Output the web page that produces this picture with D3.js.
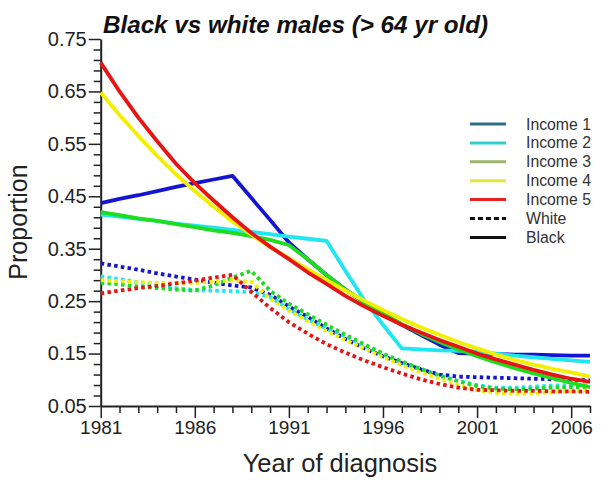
<!DOCTYPE html>
<html><head><meta charset="utf-8">
<script src="https://cdn.jsdelivr.net/npm/d3@7"></script>
<style>
html,body{margin:0;padding:0;background:#fff;}
svg{display:block;font-family:"Liberation Sans",Arial,Helvetica,sans-serif;}
</style></head>
<body>
<svg id="chart" width="602" height="493"></svg>
<script>
// ---- data ----
const years = [1981,1982,1983,1984,1985,1986,1987,1988,1989,1990,1991,1992,1993,1994,1995,1996,1997,1998,1999,2000,2001,2002,2003,2004,2005,2006,2007];

// Black (solid)
const blackIncome1 = [0.437,0.445,0.452,0.460,0.468,0.475,0.482,0.489,0.447,0.405,0.362,0.330,0.300,0.272,0.248,0.226,0.205,0.186,0.167,0.151,0.150,0.149,0.148,0.148,0.147,0.146,0.146];
const blackIncome2 = [0.415,0.411,0.407,0.403,0.398,0.394,0.390,0.386,0.382,0.378,0.373,0.369,0.365,0.308,0.252,0.205,0.160,0.158,0.156,0.155,0.154,0.150,0.146,0.143,0.140,0.137,0.134];
const blackIncome3 = [0.420,0.414,0.408,0.403,0.397,0.391,0.385,0.380,0.374,0.367,0.357,0.330,0.300,0.272,0.248,0.226,0.206,0.188,0.172,0.158,0.145,0.133,0.122,0.112,0.103,0.094,0.086];
const blackIncome4 = [0.648,0.605,0.565,0.527,0.492,0.460,0.430,0.402,0.377,0.353,0.332,0.311,0.290,0.270,0.251,0.233,0.216,0.200,0.186,0.172,0.160,0.148,0.138,0.129,0.121,0.114,0.106];
const blackIncome5 = [0.705,0.650,0.600,0.555,0.512,0.475,0.442,0.410,0.380,0.354,0.330,0.305,0.283,0.260,0.240,0.222,0.205,0.190,0.176,0.163,0.150,0.139,0.129,0.119,0.110,0.102,0.096];

// White (dotted)
const whiteIncome1 = [0.322,0.316,0.310,0.303,0.297,0.291,0.285,0.280,0.276,0.262,0.240,0.220,0.198,0.178,0.160,0.145,0.132,0.120,0.110,0.106,0.105,0.104,0.103,0.102,0.101,0.100,0.099];
const whiteIncome2 = [0.297,0.292,0.286,0.280,0.275,0.271,0.270,0.269,0.267,0.258,0.235,0.215,0.198,0.183,0.165,0.148,0.133,0.120,0.108,0.098,0.090,0.085,0.085,0.087,0.089,0.090,0.090];
const whiteIncome3 = [0.285,0.282,0.278,0.275,0.272,0.270,0.280,0.295,0.308,0.270,0.245,0.225,0.205,0.186,0.168,0.150,0.135,0.121,0.108,0.097,0.088,0.083,0.082,0.083,0.085,0.086,0.086];
const whiteIncome4 = [0.290,0.288,0.286,0.285,0.284,0.285,0.287,0.290,0.287,0.255,0.232,0.212,0.193,0.176,0.160,0.143,0.128,0.114,0.102,0.090,0.080,0.075,0.073,0.074,0.076,0.078,0.080];
const whiteIncome5 = [0.265,0.270,0.275,0.279,0.284,0.289,0.295,0.300,0.268,0.237,0.210,0.188,0.168,0.152,0.137,0.124,0.112,0.101,0.092,0.085,0.081,0.080,0.079,0.079,0.078,0.078,0.077];

const incomeLabels = ["Income 1","Income 2","Income 3","Income 4","Income 5"];
const raceLabels = ["White","Black"];
const xTickValues = [1981,1986,1991,1996,2001,2006];
const yTickValues = [0.05,0.15,0.25,0.35,0.45,0.55,0.65,0.75];
const titleText = "Black vs white males (> 64 yr old)";
const xTitle = "Year of diagnosis";
const yTitle = "Proportion";

// ---- styling ----
const lineColors = ["#1414d2","#1fe6f0","#1edc1e","#f2f000","#e81414"];
const legendColors = ["#2f6e8a","#30d2cc","#9fb46c","#e6e63a","#e82020"];

const svg = d3.select("#chart");
const x = d3.scaleLinear().domain([1981,2007]).range([100.7,590]);
const y = d3.scaleLinear().domain([0.05,0.75]).range([406,39]);

// title
svg.append("text").attr("x",103).attr("y",33)
  .attr("font-size",24.2).attr("font-weight","bold").attr("font-style","italic")
  .attr("fill","#111").text(titleText);

// axes
const axisColor = "#222";
const yMinor = d3.range(0.05,0.7501,0.02).map(v=>+v.toFixed(2)).filter(v=>!yTickValues.includes(v));
const xMinor = years.filter(v=>!xTickValues.includes(v));

const gy = svg.append("g").attr("transform",`translate(${x(1981)},0)`);
gy.call(d3.axisLeft(y).tickValues(yMinor).tickSize(7).tickSizeOuter(0).tickFormat(""));
gy.call(g=>g.select(".domain").remove());
const gy2 = svg.append("g").attr("transform",`translate(${x(1981)},0)`);
gy2.call(d3.axisLeft(y).tickValues(yTickValues).tickSize(12).tickSizeOuter(0).tickPadding(2).tickFormat(d3.format(".2f")));

const gx = svg.append("g").attr("transform",`translate(0,${y(0.05)})`);
gx.call(d3.axisBottom(x).tickValues(xMinor).tickSize(7).tickSizeOuter(0).tickFormat(""));
gx.call(g=>g.select(".domain").remove());
const gx2 = svg.append("g").attr("transform",`translate(0,${y(0.05)})`);
gx2.call(d3.axisBottom(x).tickValues(xTickValues).tickSize(12).tickSizeOuter(0).tickPadding(3).tickFormat(d3.format("d")));

[gy,gy2,gx,gx2].forEach(g=>{
  g.selectAll("line").attr("stroke",axisColor).attr("stroke-width",1.5);
  g.selectAll(".domain").attr("stroke",axisColor).attr("stroke-width",2);
  g.selectAll("text").attr("fill","#222").attr("font-family","Liberation Sans, Arial, sans-serif");
});
gy2.selectAll("text").attr("font-size",20);
gx2.selectAll("text").attr("font-size",19);

// axis titles
svg.append("text").attr("x",340).attr("y",472).attr("text-anchor","middle")
  .attr("font-size",25.5).attr("fill","#222").text(xTitle);
svg.append("text").attr("transform","translate(27,222) rotate(-90)").attr("text-anchor","middle")
  .attr("font-size",25).attr("fill","#222").text(yTitle);

// lines
const line = d3.line().x((d,i)=>x(years[i])).y(d=>y(d));
const whites = [whiteIncome1,whiteIncome2,whiteIncome3,whiteIncome4,whiteIncome5];
const blacks = [blackIncome1,blackIncome2,blackIncome3,blackIncome4,blackIncome5];

const gl = svg.append("g");
whites.forEach((s,i)=>{
  gl.append("path").datum(s).attr("d",line).attr("fill","none")
    .attr("stroke",lineColors[i]).attr("stroke-width",3.8)
    .attr("stroke-dasharray","3.5,3.3").attr("stroke-linejoin","round");
});
blacks.forEach((s,i)=>{
  gl.append("path").datum(s).attr("d",line).attr("fill","none")
    .attr("stroke",lineColors[i]).attr("stroke-width",3.8)
    .attr("stroke-linejoin","round");
});

// legend
const lg = svg.append("g");
const legendItems = incomeLabels.map((l,i)=>({label:l,color:legendColors[i],dash:null}))
  .concat([{label:raceLabels[0],color:"#111",dash:"5,3"},{label:raceLabels[1],color:"#111",dash:null}]);
legendItems.forEach((d,i)=>{
  const yy = 124 + i*18.9;
  lg.append("line").attr("x1",470).attr("x2",506).attr("y1",yy).attr("y2",yy)
    .attr("stroke",d.color).attr("stroke-width",3).attr("stroke-dasharray",d.dash);
  lg.append("text").attr("x",526).attr("y",yy+5.5).attr("font-size",15.8).attr("fill","#333").text(d.label);
});
</script>
</body></html>
